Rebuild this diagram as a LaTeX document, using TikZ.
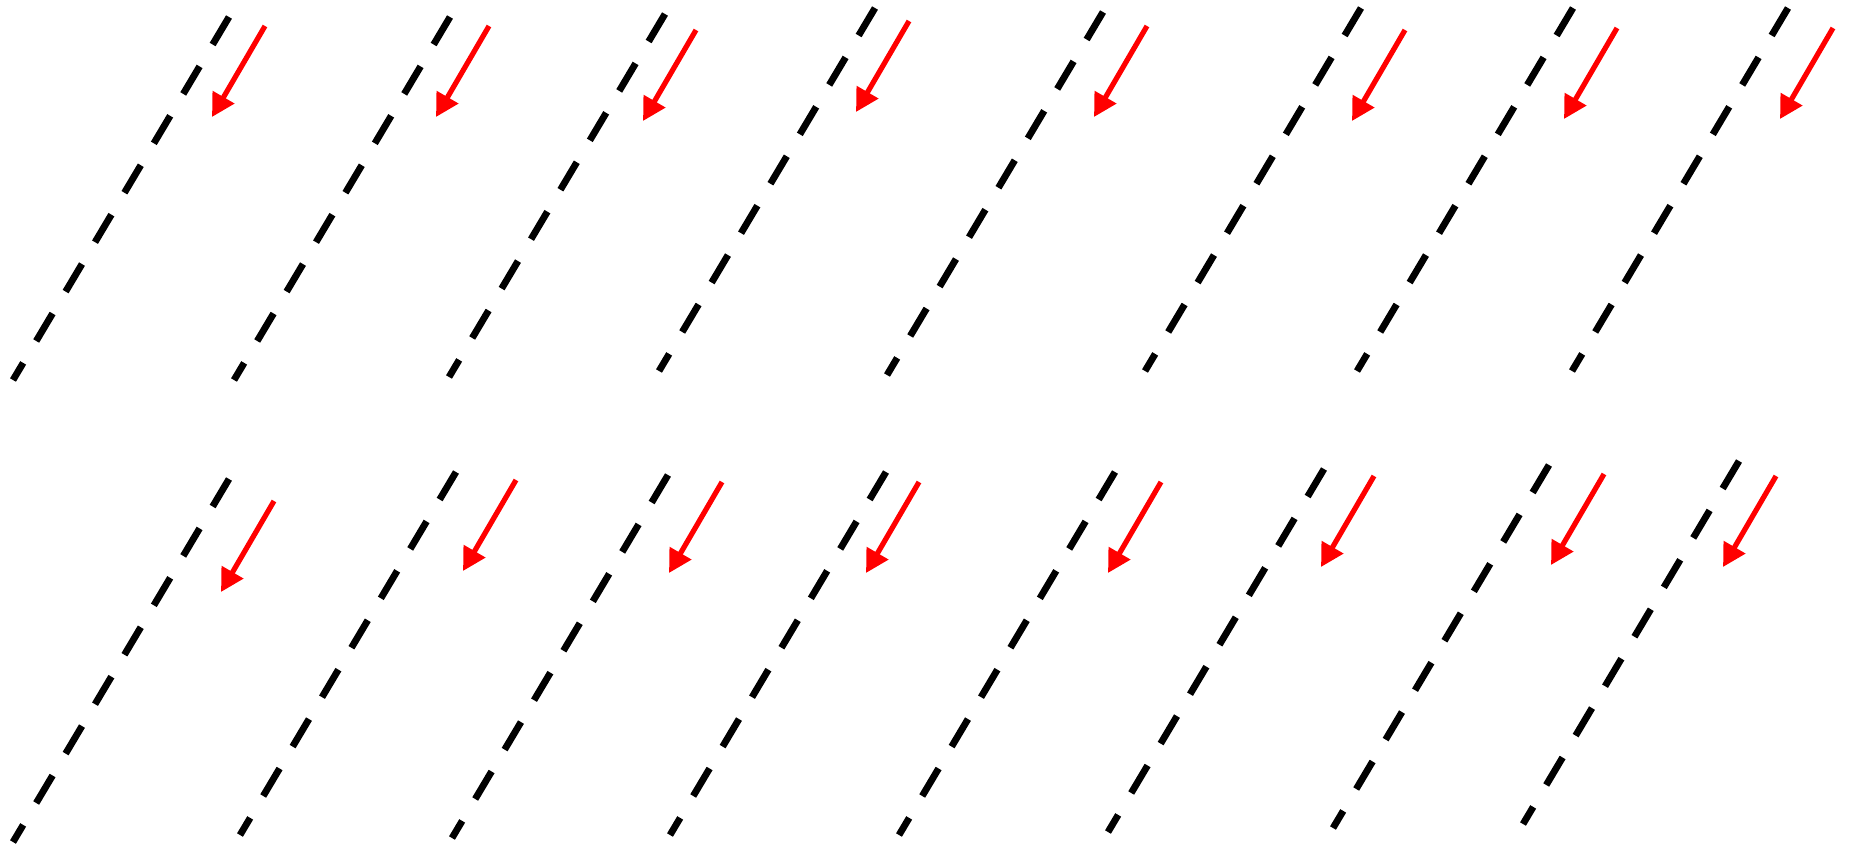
\documentclass[tikz,border=0pt]{standalone}
\usetikzlibrary{arrows.meta,calc}
\tikzset{
  dseg/.style={black, line width=3.4pt},
  redarrow/.style={color={rgb,255:red,255;green,0;blue,0}, line width=2.6pt, -{Triangle[length=11.5pt,width=12pt]}}
}
\begin{document}
\begin{tikzpicture}[x=0.5pt,y=-0.5pt]
\useasboundingbox (0,0) rectangle (1852,847);
\foreach \i/\lx/\ly/\ax/\ay in {
  1/229/17/265/26, 2/450/17/489/26, 3/665/14/696/30, 4/875/8/909/21,
  5/1103/12/1147/26, 6/1361/8/1405/30, 7/1573/8/1617/28, 8/1788/8/1833/28,
  9/229/479/274/501, 10/456/472/516/480, 11/668/475/722/482, 12/886/472/919/482,
  13/1115/472/1161/482, 14/1324/469/1374/476, 15/1549/465/1604/474, 16/1739/461/1776/476}
{
  \coordinate (lt\i) at (\lx,\ly);
  \coordinate (lb\i) at ($(lt\i)+(-216,363)$);
  \coordinate (as\i) at (\ax,\ay);
  \coordinate (ae\i) at ($(as\i)+(-53,91)$);
  % dashed line: dash 32 px, gap 25.5 px along a 422.4 px line
  \foreach \k in {0,...,7}{
    \pgfmathsetmacro{\ds}{\k*57.5/422.4}
    \pgfmathsetmacro{\de}{min(\k*57.5+32,422.4)/422.4}
    \draw[dseg] ($(lt\i)!\ds!(lb\i)$) -- ($(lt\i)!\de!(lb\i)$);
  }
  \draw[redarrow] (as\i) -- (ae\i);
}
\end{tikzpicture}
\end{document}
